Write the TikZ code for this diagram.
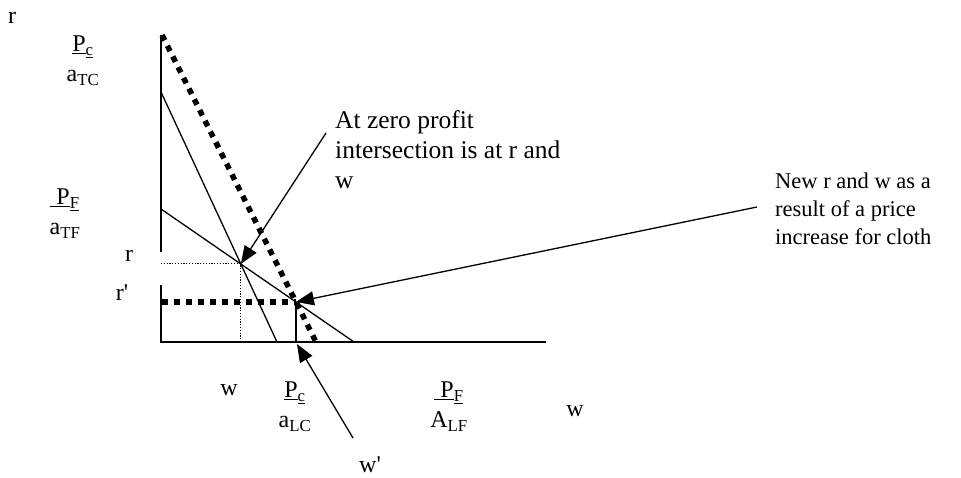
\documentclass[tikz,border=0pt]{standalone}
\usepackage{fontspec}
\setmainfont{Liberation Serif}
\usetikzlibrary{arrows.meta,calc}
\begin{document}
\begin{tikzpicture}[x=1pt,y=-1pt,
  axis/.style={line width=1.8pt},
  schedule/.style={line width=1.3pt},
  newsched/.style={line width=5.5pt, dash pattern=on 6pt off 6pt},
  guide/.style={line width=1pt, dash pattern=on 1.2pt off 1.6pt},
  pointer/.style={line width=1.3pt, -{Triangle[length=18pt,width=14pt]}},
  lbl/.style={font=\fontsize{24}{30}\selectfont, inner sep=0pt},
  fraclbl/.style={lbl, align=center, anchor=north},
  note/.style={inner sep=0pt, align=left, anchor=north west}]
\useasboundingbox (0,0) rectangle (961,477);

% axes
\coordinate (O) at (161,342);
\coordinate (top) at (161,35);
\coordinate (gapA) at (161,252);
\coordinate (gapB) at (161,285);
\coordinate (xend) at (546,342);
\draw[axis] (top) -- (gapA);
\draw[axis] (gapB) -- (O) -- (xend);

% schedules
\coordinate (c1a) at (161,92);
\coordinate (c1b) at (277,342);
\coordinate (f1a) at (161,209);
\coordinate (f1b) at (354,342);
\coordinate (c2a) at (162,35);
\coordinate (c2b) at (316,342);
\draw[schedule] (c1a) -- (c1b);
\draw[schedule] (f1a) -- (f1b);
\draw[newsched] (c2a) -- (c2b);

\coordinate (E1) at (intersection of c1a--c1b and f1a--f1b);
\coordinate (E2) at (intersection of c2a--c2b and f1a--f1b);

\draw[guide] (E1 -| O) -- (E1) -- (E1 |- O);
\draw[newsched] ($(E2 -| O)+(1,0)$) -- (E2);
\draw[line width=1.2pt] (E2) -- (E2 |- O);

% labels
\node[lbl, anchor=base] (rtop) at (12,23) {r};
\node[fraclbl] (pc1) at (83,36) {\underline{P}\textsubscript{\underline{c}}\\a\textsubscript{TC}};
\node[fraclbl] (pf1) at (65,189) {\underline{~P}\textsubscript{\underline{F}}\\a\textsubscript{TF}};
\node[lbl, anchor=base] (rlab) at (129,261) {r};
\node[lbl, anchor=base] (rplab) at (122,300) {r\textquotesingle};
\node[lbl, anchor=base] (wlab) at (229,395) {w};
\node[fraclbl] (pc2) at (295,382) {\underline{P}\textsubscript{\underline{c}}\\a\textsubscript{LC}};
\node[fraclbl] (pf2) at (449,382) {\underline{~P}\textsubscript{\underline{F}}\\A\textsubscript{LF}};
\node[lbl, anchor=base] (waxis) at (575,416) {w};
\node[lbl, anchor=base] (wplab) at (370,472) {w\textquotesingle};

% notes
\node[note, font=\fontsize{25.5}{30}\selectfont] (zero) at (335,110)
  {At zero profit\\intersection is at r and\\w};
\node[note, font=\fontsize{22.5}{28}\selectfont] (newrw) at (775,173)
  {New r and w as a\\result of a price\\increase for cloth};

% pointers
\coordinate (t1) at (326,133);
\coordinate (t2) at (757,207);
\coordinate (t3) at (353,438);
\coordinate (wtip) at ($(E2 |- O)+(1,2)$);
\draw[pointer] (t1) -- (E1);
\draw[pointer] (t2) -- (E2);
\draw[pointer] (t3) -- (wtip);
\end{tikzpicture}
\end{document}
